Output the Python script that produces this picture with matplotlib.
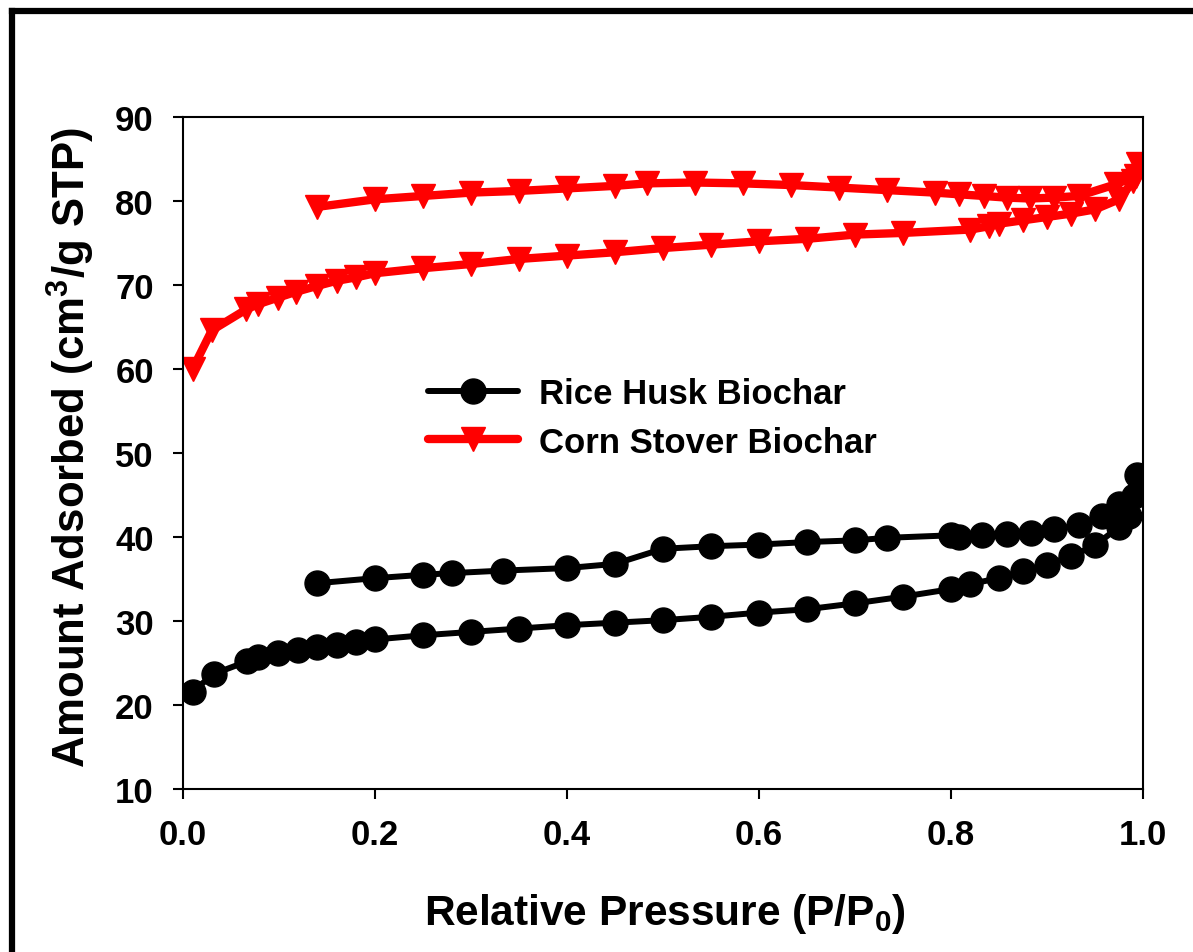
import matplotlib
matplotlib.use("Agg")
import matplotlib.pyplot as plt
from matplotlib.lines import Line2D

plt.rcParams['font.family'] = ['Liberation Sans', 'DejaVu Sans']
plt.rcParams['font.weight'] = 'bold'
plt.rcParams['mathtext.fontset'] = 'custom'
plt.rcParams['mathtext.rm'] = 'Liberation Sans:bold'
plt.rcParams['mathtext.bf'] = 'Liberation Sans:bold'
plt.rcParams['mathtext.default'] = 'bf'

# Rice husk biochar: adsorption branch then desorption branch
rh_ads_p = [0.01, 0.032, 0.067, 0.078, 0.099, 0.12, 0.14, 0.16, 0.18, 0.20, 0.25, 0.30,
            0.35, 0.40, 0.45, 0.50, 0.55, 0.60, 0.65, 0.70, 0.75, 0.80, 0.82, 0.85,
            0.875, 0.90, 0.925, 0.95, 0.975, 0.985, 0.994]
rh_ads_q = [21.6, 23.7, 25.2, 25.7, 26.2, 26.6, 26.9, 27.2, 27.5, 27.8, 28.3, 28.7,
            29.1, 29.5, 29.8, 30.1, 30.5, 31.0, 31.4, 32.1, 32.9, 33.8, 34.4, 35.1,
            36.0, 36.7, 37.7, 39.0, 41.2, 42.5, 47.4]
rh_des_p = [0.991, 0.975, 0.957, 0.933, 0.907, 0.883, 0.858, 0.832, 0.808, 0.80, 0.733,
            0.70, 0.65, 0.60, 0.55, 0.50, 0.45, 0.40, 0.333, 0.28, 0.25, 0.20, 0.14]
rh_des_q = [44.9, 43.9, 42.5, 41.4, 40.9, 40.5, 40.4, 40.2, 40.0, 40.2, 39.9,
            39.6, 39.4, 39.1, 38.9, 38.6, 36.8, 36.3, 36.0, 35.7, 35.5, 35.1, 34.5]

# Corn stover biochar: adsorption branch then desorption branch
cs_ads_p = [0.01, 0.03, 0.066, 0.078, 0.099, 0.118, 0.14, 0.16, 0.18, 0.20, 0.25, 0.30,
            0.35, 0.40, 0.45, 0.50, 0.55, 0.60, 0.65, 0.70, 0.75, 0.82, 0.84, 0.85,
            0.875, 0.90, 0.925, 0.95, 0.975, 0.99, 0.995]
cs_ads_q = [60.0, 64.6, 67.1, 67.7, 68.5, 69.2, 69.9, 70.5, 70.9, 71.4, 72.0, 72.5,
            73.1, 73.5, 73.9, 74.4, 74.8, 75.2, 75.5, 76.0, 76.2, 76.6, 77.0, 77.3,
            77.7, 78.1, 78.5, 79.0, 80.2, 82.4, 84.4]
cs_des_p = [0.993, 0.972, 0.933, 0.907, 0.882, 0.858, 0.834, 0.808, 0.783, 0.733, 0.683,
            0.633, 0.583, 0.533, 0.483, 0.45, 0.40, 0.35, 0.30, 0.25, 0.20, 0.14]
cs_des_q = [83.0, 82.0, 80.6, 80.4, 80.3, 80.4, 80.6, 80.8, 81.0, 81.3, 81.6,
            81.9, 82.1, 82.2, 82.1, 81.8, 81.5, 81.2, 81.0, 80.6, 80.2, 79.3]

x_ticks = [0.0, 0.2, 0.4, 0.6, 0.8, 1.0]
y_ticks = [10, 20, 30, 40, 50, 60, 70, 80, 90]

fig = plt.figure(figsize=(11.93, 9.53), dpi=100)
ax = fig.add_axes([183/1193, 163/953, 960/1193, 672/953])

ax.plot(rh_ads_p + rh_des_p, rh_ads_q + rh_des_q, color='black', lw=4.3,
        marker='o', markersize=18, solid_capstyle='round', label='Rice Husk Biochar')
ax.plot(cs_ads_p + cs_des_p, cs_ads_q + cs_des_q, color='red', lw=6,
        marker='v', markersize=17, solid_capstyle='round', label='Corn Stover Biochar')

ax.set_xlim(0, 1.0)
ax.set_ylim(10, 90)
ax.set_xticks(x_ticks)
ax.set_yticks(y_ticks)
ax.set_xticklabels(['%.1f' % t for t in x_ticks])
ax.tick_params(axis='both', direction='out', length=7, width=1.5, pad=14, labelsize=25)
for spine in ax.spines.values():
    spine.set_linewidth(1.5)

ax.set_xlabel(r'Relative Pressure (P/P$_{0}$)', fontsize=30.5, fontweight='bold')
ax.set_ylabel(r'Amount Adsorbed (cm$^{3}$/g STP)', fontsize=31.5, fontweight='bold')
ax.xaxis.set_label_coords(0.502, -0.152)
ax.xaxis.label.set_va('top')
ax.yaxis.set_label_coords(-0.090, 0.51)

ax.legend(loc='center left', bbox_to_anchor=(0.255, 0.5525), frameon=False,
          fontsize=25, handlelength=2.6, handletextpad=0.6, borderpad=0,
          borderaxespad=0, labelspacing=0.45, numpoints=1)

# heavy frame round the picture (left and top edges only are visible)
fig.add_artist(Line2D([11.5/1193, 11.5/1193], [0, 1 - 12/953], transform=fig.transFigure,
                      color='black', lw=4.5, solid_capstyle='projecting'))
fig.add_artist(Line2D([11.5/1193, 1], [1 - 12/953, 1 - 12/953], transform=fig.transFigure,
                      color='black', lw=4.5, solid_capstyle='projecting'))

plt.savefig('out.png', dpi=100)
